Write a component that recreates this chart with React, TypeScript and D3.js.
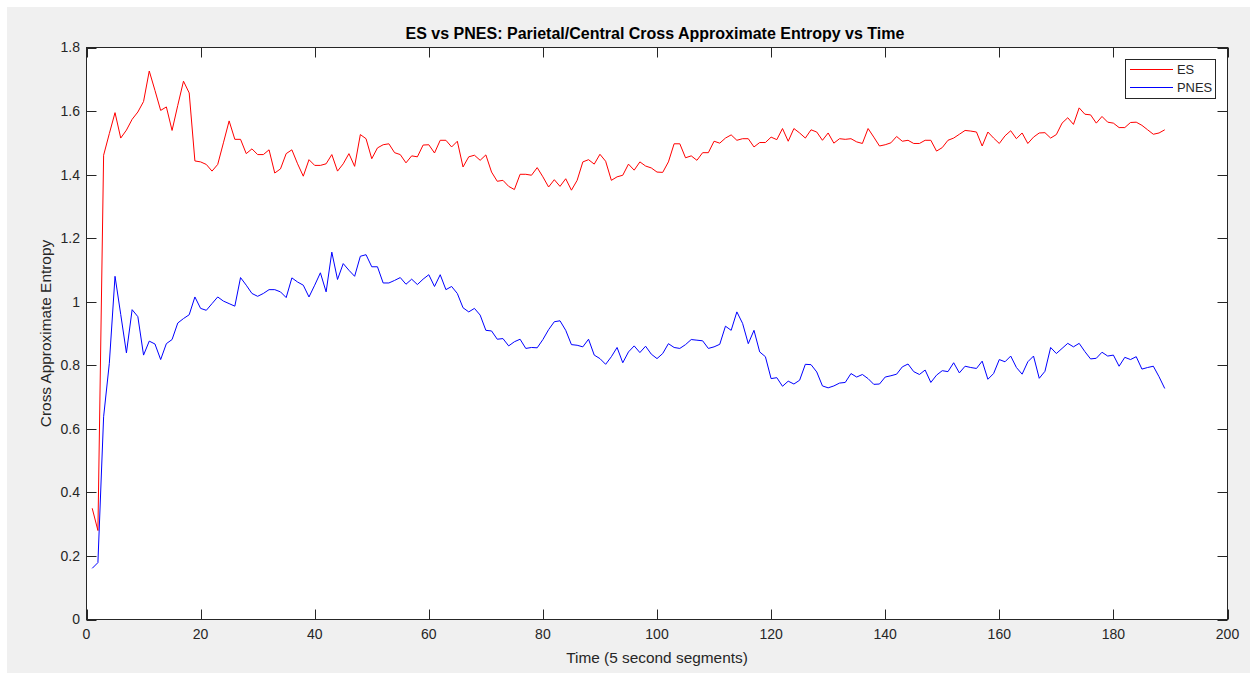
import React from "react";
import * as d3 from "d3";

const TITLE = "ES vs PNES: Parietal/Central Cross Approximate Entropy vs Time";
const X_LABEL = "Time (5 second segments)";
const Y_LABEL = "Cross Approximate Entropy";
const SERIES_NAMES = ["ES", "PNES"];
const X_TICKS = [0, 20, 40, 60, 80, 100, 120, 140, 160, 180, 200];
const Y_TICKS = [0, 0.2, 0.4, 0.6, 0.8, 1, 1.2, 1.4, 1.6, 1.8];

const ES = [
  0.35, 0.28, 1.461, 1.529, 1.595, 1.515, 1.54, 1.574, 1.597, 1.63,
  1.726, 1.665, 1.602, 1.613, 1.539, 1.618, 1.694, 1.657, 1.443, 1.44,
  1.432, 1.411, 1.432, 1.5, 1.569, 1.511, 1.511, 1.466, 1.481, 1.463,
  1.463, 1.478, 1.405, 1.418, 1.466, 1.478, 1.434, 1.395, 1.447, 1.429,
  1.429, 1.434, 1.463, 1.411, 1.434, 1.466, 1.426, 1.526, 1.513, 1.45,
  1.484, 1.494, 1.497, 1.469, 1.463, 1.437, 1.459, 1.456, 1.493, 1.494,
  1.468, 1.508, 1.508, 1.487, 1.505, 1.424, 1.456, 1.461, 1.445, 1.462,
  1.408, 1.379, 1.382, 1.363, 1.353, 1.401, 1.401, 1.398, 1.422, 1.393,
  1.361, 1.384, 1.363, 1.387, 1.351, 1.382, 1.44, 1.447, 1.433, 1.464,
  1.442, 1.382, 1.393, 1.398, 1.433, 1.414, 1.44, 1.427, 1.421, 1.408,
  1.407, 1.44, 1.497, 1.497, 1.453, 1.459, 1.445, 1.469, 1.469, 1.505,
  1.499, 1.515, 1.525, 1.508, 1.513, 1.513, 1.487, 1.501, 1.501, 1.518,
  1.51, 1.545, 1.505, 1.545, 1.531, 1.515, 1.541, 1.534, 1.508, 1.531,
  1.499, 1.513, 1.511, 1.513, 1.503, 1.498, 1.545, 1.518, 1.49, 1.494,
  1.5, 1.52, 1.505, 1.508, 1.498, 1.498, 1.508, 1.508, 1.474, 1.485,
  1.508, 1.515, 1.527, 1.539, 1.537, 1.534, 1.49, 1.534, 1.515, 1.498,
  1.522, 1.538, 1.513, 1.531, 1.498, 1.518, 1.531, 1.532, 1.515, 1.526,
  1.562, 1.579, 1.558, 1.61, 1.59, 1.588, 1.562, 1.583, 1.565, 1.562,
  1.548, 1.548, 1.564, 1.565, 1.555, 1.541, 1.527, 1.531, 1.541,
];

const PNES = [
  0.161, 0.179, 0.638, 0.806, 1.08, 0.96, 0.839, 0.975, 0.953, 0.832,
  0.876, 0.867, 0.818, 0.868, 0.881, 0.933, 0.947, 0.959, 1.015, 0.979,
  0.973, 0.994, 1.015, 1.002, 0.994, 0.986, 1.076, 1.052, 1.026, 1.017,
  1.026, 1.038, 1.038, 1.031, 1.013, 1.075, 1.062, 1.052, 1.015, 1.052,
  1.091, 1.031, 1.156, 1.07, 1.12, 1.099, 1.08, 1.143, 1.148, 1.11,
  1.11, 1.059, 1.059, 1.067, 1.076, 1.055, 1.071, 1.054, 1.071, 1.085,
  1.048, 1.085, 1.038, 1.048, 1.026, 0.981, 0.968, 0.979, 0.958, 0.91,
  0.908, 0.882, 0.884, 0.861, 0.874, 0.882, 0.853, 0.856, 0.855, 0.881,
  0.912, 0.937, 0.94, 0.91, 0.865, 0.863, 0.858, 0.882, 0.832, 0.821,
  0.803, 0.827, 0.856, 0.808, 0.842, 0.861, 0.84, 0.86, 0.835, 0.821,
  0.837, 0.868, 0.856, 0.853, 0.865, 0.881, 0.879, 0.877, 0.853, 0.858,
  0.866, 0.923, 0.91, 0.968, 0.932, 0.868, 0.91, 0.842, 0.827, 0.758,
  0.761, 0.734, 0.75, 0.741, 0.753, 0.803, 0.802, 0.779, 0.735, 0.729,
  0.735, 0.744, 0.746, 0.774, 0.763, 0.771, 0.758, 0.74, 0.741, 0.763,
  0.767, 0.772, 0.795, 0.804, 0.78, 0.771, 0.785, 0.746, 0.769, 0.783,
  0.78, 0.808, 0.776, 0.797, 0.793, 0.79, 0.813, 0.756, 0.774, 0.818,
  0.811, 0.829, 0.793, 0.772, 0.811, 0.829, 0.759, 0.781, 0.856, 0.837,
  0.853, 0.869, 0.858, 0.869, 0.843, 0.82, 0.822, 0.841, 0.829, 0.832,
  0.797, 0.825, 0.818, 0.827, 0.788, 0.793, 0.797, 0.764, 0.727,
];

const W = 1250;
const H = 673;
const L = 86.5;
const R = 1227.5;
const T = 47.5;
const B = 619.5;
const AX = "#262626";
const FONT = "'Liberation Sans', Arial, Helvetica, sans-serif";

export default function App() {
  const x = d3.scaleLinear().domain([0, 200]).range([L, R]);
  const y = d3.scaleLinear().domain([0, 1.8]).range([B, T]);
  const line = d3
    .line<number>()
    .x((_, i) => x(i + 1))
    .y((d) => y(d));
  const tl = 10;
  return (
    <svg
      width={W}
      height={H}
      style={{ position: "absolute", left: 0, top: 0, display: "block" }}
      fontFamily={FONT}
    >
      <rect x={0} y={0} width={W} height={H} fill="#ffffff" />
      <rect x={7} y={7} width={W - 7} height={H - 7} fill="#f0f0f0" />
      <rect x={L} y={T} width={R - L} height={B - T} fill="#ffffff" />
      <path d={line(ES) || ""} fill="none" stroke="#ff0000" strokeWidth={1} />
      <path d={line(PNES) || ""} fill="none" stroke="#0000ff" strokeWidth={1} />
      <rect x={L} y={T} width={R - L} height={B - T} fill="none" stroke={AX} strokeWidth={1} />
      {X_TICKS.map((t) => (
        <g key={"x" + t}>
          <line x1={Math.round(x(t)) + 0.5} x2={Math.round(x(t)) + 0.5} y1={B} y2={B - tl} stroke={AX} />
          <line x1={Math.round(x(t)) + 0.5} x2={Math.round(x(t)) + 0.5} y1={T} y2={T + tl} stroke={AX} />
          <text x={x(t)} y={639} textAnchor="middle" fontSize={14} fill={AX}>
            {t}
          </text>
        </g>
      ))}
      {Y_TICKS.map((t) => (
        <g key={"y" + t}>
          <line x1={L} x2={L + tl} y1={Math.round(y(t)) + 0.5} y2={Math.round(y(t)) + 0.5} stroke={AX} />
          <line x1={R} x2={R - tl} y1={Math.round(y(t)) + 0.5} y2={Math.round(y(t)) + 0.5} stroke={AX} />
          <text x={80} y={y(t)} dy="0.35em" textAnchor="end" fontSize={14} fill={AX}>
            {String(t)}
          </text>
        </g>
      ))}
      <text x={(L + R) / 2} y={663} textAnchor="middle" fontSize={15.4} fill={AX}>
        {X_LABEL}
      </text>
      <text
        transform={`translate(51,${(T + B) / 2}) rotate(-90)`}
        textAnchor="middle"
        fontSize={15.4}
        fill={AX}
      >
        {Y_LABEL}
      </text>
      <text x={(L + R) / 2 - 2} y={39} textAnchor="middle" fontSize={16} fontWeight="bold" fill="#000">
        {TITLE}
      </text>
      <g>
        <rect x={1125.5} y={59.5} width={90} height={39} fill="#ffffff" stroke={AX} strokeWidth={1} />
        {SERIES_NAMES.map((n, i) => (
          <g key={n}>
            <line x1={1130} x2={1173} y1={69.5 + i * 18} y2={69.5 + i * 18} stroke={i === 0 ? "#ff0000" : "#0000ff"} />
            <text x={1177} y={69.5 + i * 18} dy="0.35em" fontSize={12.9} fill={AX}>
              {n}
            </text>
          </g>
        ))}
      </g>
    </svg>
  );
}
